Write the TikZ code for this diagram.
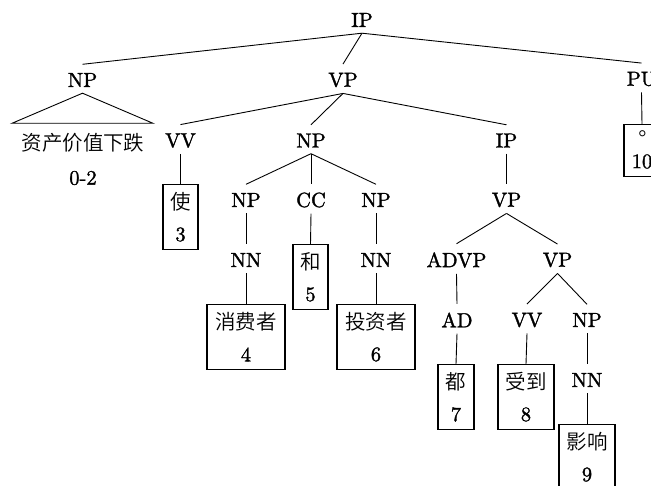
\documentclass[tikz,border=0pt]{standalone}
\usepackage{fontspec}
\setmainfont{lmroman10-regular.otf}[FakeBold=1.5]
\newfontfamily\cjk{Noto Sans CJK SC DemiLight}
\newfontfamily\cjktc{Noto Sans CJK TC DemiLight}
\tikzset{
  lab/.style={inner sep=0pt, font=\fontsize{20.5}{24}\selectfont},
  han/.style={inner sep=0pt, font=\fontsize{20.5}{24}\selectfont\cjk},
  leafbox/.style={draw, line width=1.1pt, anchor=north, inner sep=0pt, minimum height=65pt},
  branch/.style={line width=0.9pt},
}
\newcommand\edgeline[2]{\draw[branch] ([yshift=-6pt]#1.south) -- ([yshift=8.5pt]#2.north);}
\newcommand\edgebox[2]{\draw[branch] ([yshift=-6pt]#1.south) -- (#2.north);}
\begin{document}
\begin{tikzpicture}[x=1pt,y=-1pt]
\useasboundingbox (0,0) rectangle (651,486);
\clip (0,0) rectangle (651,486);
% level 0-1
\node[lab] (ip0) at (362,20) {IP};
\node[lab] (np1) at (82.5,80) {NP};
\node[lab] (vp1) at (343,80) {VP};
\node[lab] (pu1) at (641.5,79) {PU};
% triangle leaf
\coordinate (triL) at (12,123.3);
\coordinate (triR) at (153,123.3);
\node[han] (t02) at (83,143) {资产价值下跌};
\node[lab] (n02) at (83,178) {0-2};
% level 2
\node[lab] (vv2) at (180.5,140.5) {VV};
\node[lab] (np2) at (311,140.5) {NP};
\node[lab] (ip2) at (506.5,140.5) {IP};
% level 3
\node[lab] (np3a) at (246,200) {NP};
\node[lab] (cc3) at (311,200) {CC};
\node[lab] (np3b) at (376,200) {NP};
\node[lab] (vp3) at (506.5,200) {VP};
% level 4
\node[lab] (nn4a) at (246,260) {NN};
\node[lab] (nn4b) at (376,260) {NN};
\node[lab] (advp4) at (456.5,260) {ADVP};
\node[lab] (vp4) at (557.5,260) {VP};
% level 5
\node[lab] (ad5) at (457,320) {AD};
\node[lab] (vv5) at (527,320) {VV};
\node[lab] (np5) at (587,320) {NP};
% level 6
\node[lab] (nn6) at (587,380) {NN};
% leaf boxes
\node[leafbox, minimum width=35pt] (b3) at (180.5,184) {};
\node[han] (t3) at (180.5,202) {使};
\node[lab] (n3) at (180.5,234.5) {3};
\node[leafbox, minimum width=35pt] (b5) at (310.5,244) {};
\node[han] (t5) at (310.5,262) {和};
\node[lab] (n5) at (310.5,294.5) {5};
\node[leafbox, minimum width=78pt] (b4) at (246,304) {};
\node[han] (t4) at (246,322) {消费者};
\node[lab] (n4) at (246,354.5) {4};
\node[leafbox, minimum width=78pt] (b6) at (376,304) {};
\node[han] (t6) at (376,322) {投资者};
\node[lab] (n6) at (376,354.5) {6};
\node[leafbox, minimum width=36pt] (b7) at (456,364) {};
\node[han] (t7) at (456,382) {都};
\node[lab] (n7) at (456,414.5) {7};
\node[leafbox, minimum width=56pt] (b8) at (526,364) {};
\node[han] (t8) at (526,382) {受到};
\node[lab] (n8) at (526,414.5) {8};
\node[leafbox, minimum width=56pt] (b9) at (587,424) {};
\node[han] (t9) at (587,442) {影响};
\node[lab] (n9) at (587,474.5) {9};
\node[leafbox, minimum width=36pt, minimum height=52pt] (b10) at (642,124) {};
\node[inner sep=0pt, font=\fontsize{20.5}{24}\selectfont\cjktc] (t10) at (643,136) {。};
\node[lab] (n10) at (642,161.5) {10};
% edges
\edgeline{ip0}{np1}
\edgeline{ip0}{vp1}
\edgeline{ip0}{pu1}
\draw[branch] ([yshift=-6pt]np1.south) -- (triL) -- (triR) -- cycle;
\edgeline{vp1}{vv2}
\edgeline{vp1}{np2}
\edgeline{vp1}{ip2}
\edgebox{vv2}{b3}
\edgebox{pu1}{b10}
\edgeline{np2}{np3a}
\edgeline{np2}{cc3}
\edgeline{np2}{np3b}
\edgeline{np3a}{nn4a}
\edgebox{nn4a}{b4}
\edgebox{cc3}{b5}
\edgeline{np3b}{nn4b}
\edgebox{nn4b}{b6}
\edgeline{ip2}{vp3}
\edgeline{vp3}{advp4}
\edgeline{vp3}{vp4}
\edgeline{advp4}{ad5}
\edgebox{ad5}{b7}
\edgeline{vp4}{vv5}
\edgeline{vp4}{np5}
\edgebox{vv5}{b8}
\edgeline{np5}{nn6}
\edgebox{nn6}{b9}
\end{tikzpicture}
\end{document}
